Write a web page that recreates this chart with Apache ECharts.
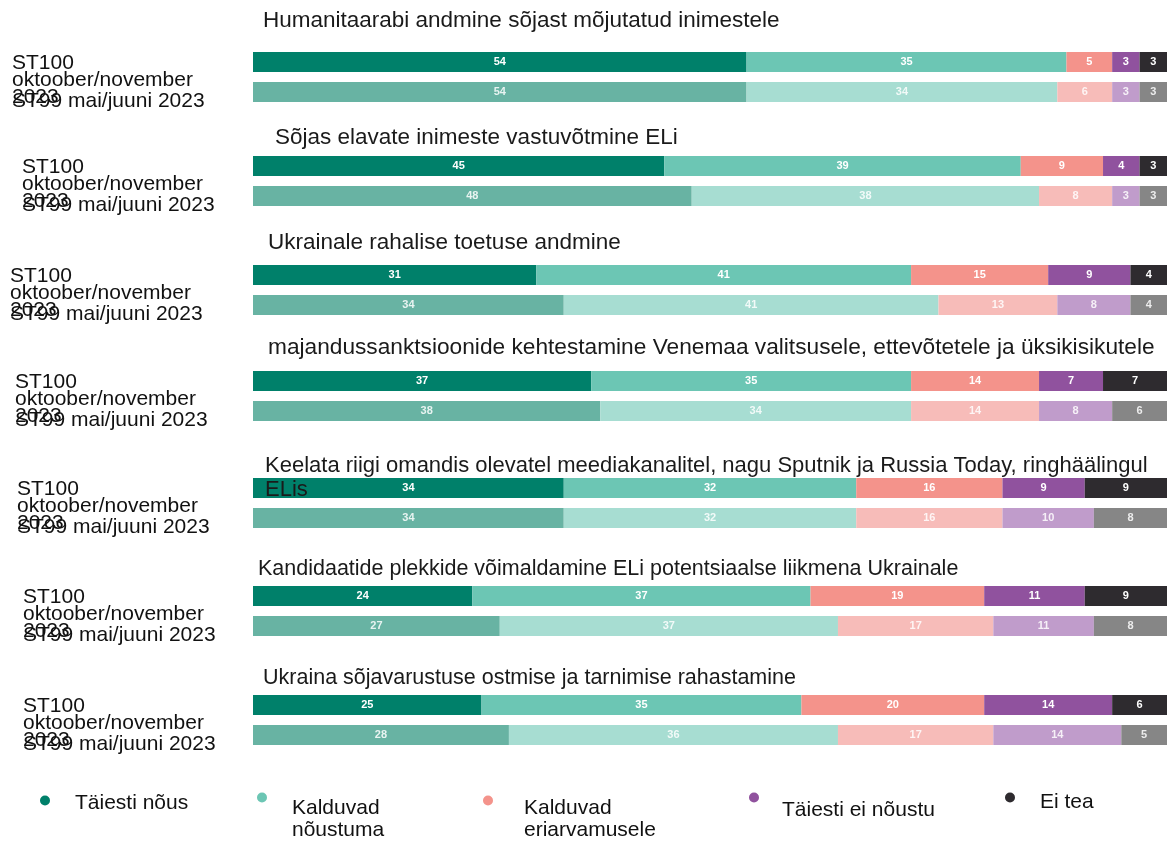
<!DOCTYPE html>
<html><head><meta charset="utf-8">
<script src="https://cdn.jsdelivr.net/npm/echarts@6/dist/echarts.min.js"></script>
<style>html,body{margin:0;padding:0;background:#fff}#c{width:1167px;height:841px}</style>
</head><body><div id="c"></div>
<script>
const questions = [
  'Humanitaarabi andmine sõjast mõjutatud inimestele',
  'Sõjas elavate inimeste vastuvõtmine ELi',
  'Ukrainale rahalise toetuse andmine',
  'majandussanktsioonide kehtestamine Venemaa valitsusele, ettevõtetele ja üksikisikutele',
  'Keelata riigi omandis olevatel meediakanalitel, nagu Sputnik ja Russia Today, ringhäälingul ELis',
  'Kandidaatide plekkide võimaldamine ELi potentsiaalse liikmena Ukrainale',
  'Ukraina sõjavarustuse ostmise ja tarnimise rahastamine'
];
const periods = ['ST100 oktoober/november 2023', 'ST99 mai/juuni 2023'];
const segmentNames = ['Täiesti nõus', 'Kalduvad nõustuma', 'Kalduvad eriarvamusele', 'Täiesti ei nõustu', 'Ei tea'];

const fullyAgree100 = [54, 45, 31, 37, 34, 24, 25];
const fullyAgree99 = [54, 48, 34, 38, 34, 27, 28];
const tendAgree100 = [35, 39, 41, 35, 32, 37, 35];
const tendAgree99 = [34, 38, 41, 34, 32, 37, 36];
const tendDisagree100 = [5, 9, 15, 14, 16, 19, 20];
const tendDisagree99 = [6, 8, 13, 14, 16, 17, 17];
const fullyDisagree100 = [3, 4, 9, 7, 9, 11, 14];
const fullyDisagree99 = [3, 3, 8, 8, 10, 11, 14];
const dontKnow100 = [3, 3, 4, 7, 9, 9, 6];
const dontKnow99 = [3, 3, 4, 6, 8, 8, 5];

const st100 = [fullyAgree100, tendAgree100, tendDisagree100, fullyDisagree100, dontKnow100];
const st99 = [fullyAgree99, tendAgree99, tendDisagree99, fullyDisagree99, dontKnow99];

const colors100 = ['#00806a', '#6cc6b4', '#f4938b', '#90529e', '#2e2b2f'];
const colors99 = ['#68b3a3', '#a7ddd2', '#f7bcb9', '#c09ccb', '#868686'];

// layout
const FONT = '"Liberation Sans", Arial, sans-serif';
const gridTops = [47, 151, 260, 366, 473, 581, 690];
const labelX = [12, 22, 10, 15, 17, 23, 23];
const titleX = [263, 275, 268, 268, 265, 258, 263];
const titleY = [9, 126, 231, 336, 454, 557, 666];
const titleSize = [22.5, 22.5, 22.5, 22.7, 22, 21.5, 21.5];
const GL = 253;

const grids = [], xAxes = [], yAxes = [], series = [], titles = [];
questions.forEach((q, i) => {
  grids.push({left: GL, right: 0, top: gridTops[i], height: 60, outerBoundsMode: 'none', containLabel: false});
  xAxes.push({type: 'value', gridIndex: i, min: 0, max: 100, show: false});
  yAxes.push({
    type: 'category', gridIndex: i, inverse: true, data: periods,
    axisLine: {show: false}, axisTick: {show: false}, splitLine: {show: false},
    axisLabel: {
      interval: 0, align: 'left', verticalAlign: 'middle', margin: GL - labelX[i],
      formatter: (v, idx) => idx === 0
        ? '{e1| }\n' + v.split(' ').map(w => '{t|' + w + '}').join('\n')
        : '{e2| }\n{t|' + v + '}',
      rich: {
        t: {fontSize: 21, lineHeight: 17, color: '#111', fontFamily: FONT},
        e1: {fontSize: 1, lineHeight: 36},
        e2: {fontSize: 1, lineHeight: 18}
      }
    }
  });
  titles.push({
    // the long fifth title wraps its last word onto a second line, as in the source
    text: q.replace(' ringhäälingul ELis', ' ringhäälingul\nELis'),
    left: titleX[i], top: titleY[i], padding: 0,
    textStyle: {fontSize: titleSize[i], fontWeight: 'normal', color: '#1a1a1a', fontFamily: FONT, lineHeight: 24}
  });
  segmentNames.forEach((name, k) => {
    series.push({
      type: 'bar', name: name, stack: 'g' + i, xAxisIndex: i, yAxisIndex: i,
      barWidth: 20, itemStyle: {color: colors100[k]},
      label: {show: true, position: 'inside', color: '#fff', fontSize: 11, fontWeight: 'bold', fontFamily: FONT},
      data: [
        {value: st100[k][i], itemStyle: {color: colors100[k]}},
        {value: st99[k][i], itemStyle: {color: colors99[k]}, label: {color: 'rgba(255,255,255,0.85)'}}
      ]
    });
  });
});

// legend placement: spacer line above text shifts text down relative to marker
const legendSpec = [
  {left: 40, top: 789, gap: 6, lp: 20},
  {left: 257, top: 775, gap: 44, lp: 20},
  {left: 483, top: 778, gap: 38, lp: 26},
  {left: 749, top: 786, gap: 26, lp: 18},
  {left: 1005, top: 786, gap: 10, lp: 20}
];
const legends = segmentNames.map((name, k) => ({
  data: [name], left: legendSpec[k].left, top: legendSpec[k].top, padding: 0,
  orient: 'horizontal', icon: 'circle', itemWidth: 10, itemHeight: 10, selectedMode: false,
  formatter: n => '{e| }\n' + n.replace(' nõustuma', '\nnõustuma').replace(' eriarvamusele', '\neriarvamusele')
    .split('\n').map(w => '{t|' + w + '}').join('\n'),
  textStyle: {
    padding: [0, 0, 0, legendSpec[k].lp],
    rich: {
      t: {fontSize: 21, lineHeight: 22, color: '#111', fontFamily: FONT},
      e: {fontSize: 1, lineHeight: legendSpec[k].gap}
    }
  }
}));

const chart = echarts.init(document.getElementById('c'), null, {renderer: 'canvas'});
chart.setOption({
  animation: false,
  backgroundColor: '#fff',
  title: titles,
  legend: legends,
  grid: grids, xAxis: xAxes, yAxis: yAxes, series: series
});
</script></body></html>
